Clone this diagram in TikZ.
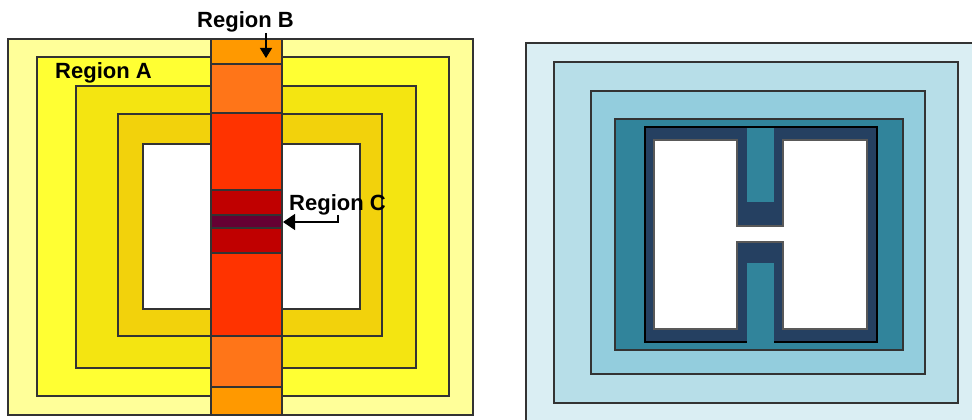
\documentclass[tikz,border=0pt]{standalone}
\usepackage{fontspec}
\setmainfont{Liberation Sans}
\usetikzlibrary{arrows.meta}

% yellow/orange section colours
\definecolor{yA}{HTML}{FFFF99}
\definecolor{yB}{HTML}{FFFF33}
\definecolor{yC}{HTML}{F4E511}
\definecolor{yD}{HTML}{F2D20C}
\definecolor{oA}{HTML}{FF9900}
\definecolor{oB}{HTML}{FF7518}
\definecolor{oC}{HTML}{FF3300}
\definecolor{rD}{HTML}{C00000}
\definecolor{pE}{HTML}{660033}
% blue section colours
\definecolor{bA}{HTML}{DAEEF3}
\definecolor{bB}{HTML}{B7DEE8}
\definecolor{bC}{HTML}{93CDDD}
\definecolor{bD}{HTML}{31849B}
\definecolor{bE}{HTML}{254061}

\tikzset{
  zone/.style={draw=black!80, line width=1.2pt},
  lbl/.style={anchor=base west, inner sep=0pt, font=\fontsize{22}{26}\selectfont\bfseries},
  pointer/.style={line width=1.3pt, line join=miter},
}

\begin{document}
\begin{tikzpicture}[x=1pt, y=-1pt]
\path[use as bounding box, fill=white] (0,0) rectangle (972,420);

% ---- left cross-section: nested rings with a vertical cut bar ----
\filldraw[zone, fill=yA] (8,39) rectangle (473,415);
\filldraw[zone, fill=yB] (37,57) rectangle (449,396);
\filldraw[zone, fill=yC] (76,86) rectangle (416,368);
\filldraw[zone, fill=yD] (118,114) rectangle (382,336);
\filldraw[zone, fill=white] (143,144) rectangle (360,309);

% the bar, top to bottom
\filldraw[zone, fill=oA] (211,39)  rectangle (282,64);
\filldraw[zone, fill=oB] (211,64)  rectangle (282,113);
\filldraw[zone, fill=oC] (211,113) rectangle (282,190);
\filldraw[zone, fill=rD] (211,190) rectangle (282,215);
\filldraw[zone, fill=pE] (211,215) rectangle (282,228);
\filldraw[zone, fill=rD] (211,228) rectangle (282,253);
\filldraw[zone, fill=oC] (211,253) rectangle (282,336);
\filldraw[zone, fill=oB] (211,336) rectangle (282,387);
\filldraw[zone, fill=oA] (211,387) rectangle (282,415);

% labels and pointers
\node[lbl] (lblA) at (55,78) {Region A};
\node[lbl] (lblB) at (197,28) {Region B};
\node[lbl] (lblC) at (289,210) {Region C};

\coordinate (tipB) at (266,58);
\coordinate (tipC) at (283,222);
\coordinate (bendC) at (338,222);

\draw[pointer, -{Triangle[width=12pt,length=10pt]}] (lblB.south -| tipB) -- (tipB);
\draw[pointer, -{Triangle[width=16pt,length=12pt]}] (lblC.south -| bendC) -- (bendC) -- (tipC);

% ---- right cross-section: nested rings around an H-shaped opening ----
\fill[bA] (526,43) rectangle (972,420);
\draw[zone] (526,420) -- (526,43) -- (972,43);
\filldraw[zone, fill=bB] (554,62) rectangle (958,403);
\filldraw[zone, fill=bC] (591,91) rectangle (925,374);
\filldraw[zone, fill=bD] (615,119) rectangle (903,350);
\filldraw[draw=black, line width=1.2pt, fill=bE] (645,127) rectangle (877,342);

% teal channels through the dark frame
\fill[bD] (747,128) rectangle (774,202);
\fill[bD] (747,263) rectangle (774,343);

% H-shaped opening
\filldraw[draw=black!65, line width=1.2pt, fill=white]
  (654,140) -- (737,140) -- (737,226) -- (783,226) -- (783,140) -- (867,140)
  -- (867,329) -- (783,329) -- (783,242) -- (737,242) -- (737,329) -- (654,329) -- cycle;
\end{tikzpicture}
\end{document}
